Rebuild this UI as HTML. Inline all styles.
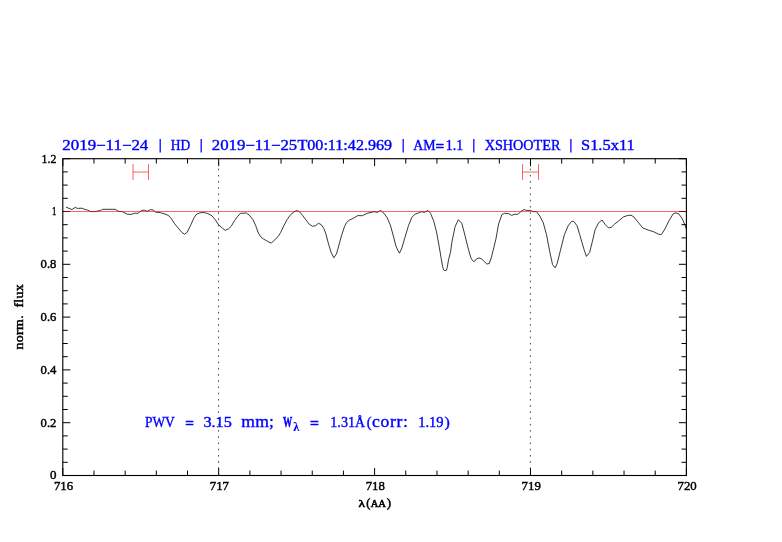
<!DOCTYPE html><html><head><meta charset="utf-8"><title>plot</title><style>html,body{margin:0;padding:0;background:#fff}svg{display:block;will-change:transform}text{font-family:"Liberation Serif",serif}</style></head><body>
<svg width="782" height="542" viewBox="0 0 782 542">
<rect width="782" height="542" fill="#fff"/>
<line x1="218.55" y1="475.35" x2="218.55" y2="158.70" stroke="#000" stroke-opacity="0.72" stroke-width="1" stroke-dasharray="1.6 4.625" stroke-dashoffset="-0.1"/>
<line x1="530.35" y1="475.35" x2="530.35" y2="158.70" stroke="#000" stroke-opacity="0.72" stroke-width="1" stroke-dasharray="1.6 4.625" stroke-dashoffset="-0.1"/>
<path d="M66.0 207.1 L72.0 209.6 L75.3 207.3 L77.3 208.4 L81.9 208.2 L84.6 209.3 L87.3 210.0 L90.6 211.6 L95.2 211.6 L100.6 210.4 L102.6 209.3 L115.2 209.3 L118.5 211.3 L122.5 211.7 L127.2 214.2 L131.1 214.4 L134.5 213.3 L137.8 213.3 L141.8 210.4 L144.4 210.2 L147.1 211.3 L150.4 209.7 L153.1 210.0 L155.8 212.2 L160.4 212.6 L166.0 214.4 L168.7 215.7 L171.3 218.6 L174.6 223.7 L178.0 227.9 L182.0 232.6 L184.6 234.2 L187.3 232.2 L190.6 225.3 L193.9 218.0 L196.6 214.0 L199.9 212.9 L203.2 212.4 L207.2 213.3 L211.9 215.7 L215.2 219.7 L218.5 224.6 L222.5 228.3 L225.2 230.3 L228.5 228.9 L231.2 226.3 L234.5 220.6 L237.8 216.2 L240.5 213.3 L246.5 213.0 L249.8 215.7 L253.1 219.9 L255.8 225.9 L258.4 233.2 L261.1 237.2 L263.7 239.2 L266.4 240.6 L270.0 242.7 L271.6 242.8 L274.7 239.9 L278.0 236.6 L280.6 232.6 L284.0 225.3 L287.3 219.3 L290.6 214.6 L293.9 212.0 L296.6 210.4 L299.3 211.7 L302.6 215.3 L305.9 219.9 L309.2 224.2 L312.6 226.3 L315.2 225.9 L318.5 223.3 L321.2 224.6 L323.9 228.6 L325.9 233.9 L328.5 243.9 L331.2 252.5 L333.8 257.8 L336.5 253.9 L339.1 244.5 L341.8 234.6 L344.5 226.6 L346.5 222.6 L349.1 220.3 L353.1 218.4 L357.8 215.6 L362.4 215.7 L367.1 213.3 L374.0 211.7 L377.3 212.4 L380.6 210.4 L384.0 213.3 L387.3 218.0 L390.6 225.9 L393.3 235.9 L395.9 245.9 L397.9 250.5 L399.5 253.2 L401.9 247.9 L404.6 238.6 L408.6 225.3 L411.9 217.3 L415.2 214.0 L418.5 213.0 L421.2 211.7 L424.5 212.4 L427.9 210.4 L430.5 213.3 L433.8 221.3 L436.5 231.9 L439.2 246.5 L441.2 258.5 L442.6 266.5 L443.6 269.9 L445.0 270.6 L446.4 270.3 L447.3 267.3 L448.5 259.8 L450.5 252.3 L451.8 242.6 L455.1 226.6 L458.4 219.7 L461.8 223.3 L465.1 235.9 L468.4 249.2 L470.9 257.9 L472.5 260.5 L474.2 261.7 L476.5 258.9 L479.1 257.9 L481.7 258.9 L484.2 261.5 L486.8 264.0 L489.3 263.5 L491.4 257.4 L493.9 247.2 L496.0 238.6 L498.6 223.9 L501.9 214.6 L504.6 213.3 L508.6 213.6 L511.5 215.3 L514.6 214.4 L517.9 214.2 L521.2 211.3 L523.9 209.6 L526.5 210.4 L530.5 210.4 L533.2 211.7 L536.5 211.7 L539.8 216.0 L543.2 222.6 L546.5 234.6 L549.8 251.9 L552.5 264.5 L555.1 267.8 L557.1 263.8 L560.4 250.5 L564.4 234.6 L568.4 225.3 L571.8 221.3 L573.7 221.3 L577.1 225.9 L579.7 234.6 L582.0 242.7 L584.1 249.7 L586.4 256.4 L589.6 252.5 L592.4 241.4 L595.1 229.7 L598.6 222.8 L602.0 220.0 L605.5 224.9 L608.5 227.9 L611.3 227.3 L614.5 224.2 L618.6 221.0 L623.4 216.9 L627.6 215.5 L631.0 215.2 L633.8 216.9 L638.6 222.8 L642.8 228.0 L648.3 230.1 L653.8 231.8 L658.7 234.3 L661.4 234.5 L664.9 229.0 L669.0 220.7 L673.2 213.8 L675.9 212.8 L678.7 213.8 L682.2 218.6 L684.9 224.9 L686.5 229.7" fill="none" stroke="#000" stroke-width="0.78" stroke-linejoin="round"/>
<path d="M133.0 164.1V180M148.5 164.1V180M133.0 172.05H148.5" fill="none" stroke="#ff0000" stroke-width="0.62"/>
<path d="M522.5 164.1V180M538.5 164.1V180M522.5 172.05H538.5" fill="none" stroke="#ff0000" stroke-width="0.62"/>
<path d="M62.80 475.5v-7.5M62.80 158.7v7.5M93.98 475.5v-4.9M93.98 158.7v4.9M125.16 475.5v-4.9M125.16 158.7v4.9M156.34 475.5v-4.9M156.34 158.7v4.9M187.52 475.5v-4.9M187.52 158.7v4.9M218.70 475.5v-7.5M218.70 158.7v7.5M249.88 475.5v-4.9M249.88 158.7v4.9M281.06 475.5v-4.9M281.06 158.7v4.9M312.24 475.5v-4.9M312.24 158.7v4.9M343.42 475.5v-4.9M343.42 158.7v4.9M374.60 475.5v-7.5M374.60 158.7v7.5M405.78 475.5v-4.9M405.78 158.7v4.9M436.96 475.5v-4.9M436.96 158.7v4.9M468.14 475.5v-4.9M468.14 158.7v4.9M499.32 475.5v-4.9M499.32 158.7v4.9M530.50 475.5v-7.5M530.50 158.7v7.5M561.68 475.5v-4.9M561.68 158.7v4.9M592.86 475.5v-4.9M592.86 158.7v4.9M624.04 475.5v-4.9M624.04 158.7v4.9M655.22 475.5v-4.9M655.22 158.7v4.9M686.40 475.5v-7.5M686.40 158.7v7.5M62.8 475.50h7.5M686.4 475.50h-7.5M62.8 462.30h4.9M686.4 462.30h-4.9M62.8 449.10h4.9M686.4 449.10h-4.9M62.8 435.90h4.9M686.4 435.90h-4.9M62.8 422.70h7.5M686.4 422.70h-7.5M62.8 409.50h4.9M686.4 409.50h-4.9M62.8 396.30h4.9M686.4 396.30h-4.9M62.8 383.10h4.9M686.4 383.10h-4.9M62.8 369.90h7.5M686.4 369.90h-7.5M62.8 356.70h4.9M686.4 356.70h-4.9M62.8 343.50h4.9M686.4 343.50h-4.9M62.8 330.30h4.9M686.4 330.30h-4.9M62.8 317.10h7.5M686.4 317.10h-7.5M62.8 303.90h4.9M686.4 303.90h-4.9M62.8 290.70h4.9M686.4 290.70h-4.9M62.8 277.50h4.9M686.4 277.50h-4.9M62.8 264.30h7.5M686.4 264.30h-7.5M62.8 251.10h4.9M686.4 251.10h-4.9M62.8 237.90h4.9M686.4 237.90h-4.9M62.8 224.70h4.9M686.4 224.70h-4.9M62.8 211.50h7.5M686.4 211.50h-7.5M62.8 198.30h4.9M686.4 198.30h-4.9M62.8 185.10h4.9M686.4 185.10h-4.9M62.8 171.90h4.9M686.4 171.90h-4.9M62.8 158.70h7.5M686.4 158.70h-7.5" fill="none" stroke="#000" stroke-width="1.0"/>
<line x1="63.40" y1="211.5" x2="685.80" y2="211.5" stroke="#ff0000" stroke-width="0.6"/>
<rect x="62.8" y="158.7" width="623.60" height="316.80" fill="none" stroke="#000" stroke-width="1.12"/>
<text transform="translate(62.30 150.30) scale(1.1502 1)" font-size="14.7" fill="#0000ff" stroke="#0000ff" stroke-width="0.38">2019−11−24</text>
<text transform="translate(170.80 150.30) scale(0.9184 1)" font-size="14.7" fill="#0000ff" stroke="#0000ff" stroke-width="0.38">HD</text>
<text transform="translate(211.80 150.30) scale(1.1435 1)" font-size="14.7" fill="#0000ff" stroke="#0000ff" stroke-width="0.38">2019−11−25</text>
<text transform="translate(297.50 150.30) scale(1.1025 1)" font-size="14.7" fill="#0000ff" stroke="#0000ff" stroke-width="0.38">T</text>
<text transform="translate(307.30 150.30) scale(1.0962 1)" font-size="14.7" fill="#0000ff" stroke="#0000ff" stroke-width="0.38">00:11:42.969</text>
<text transform="translate(413.20 150.30) scale(0.9415 1)" font-size="14.7" fill="#0000ff" stroke="#0000ff" stroke-width="0.38">AM</text>
<text transform="translate(435.60 151.15) scale(1.0386 0.96)" font-size="14.7" fill="#0000ff" stroke="#0000ff" stroke-width="0.5" font-weight="bold">=</text>
<text transform="translate(445.80 150.30) scale(0.9469 1)" font-size="14.7" fill="#0000ff" stroke="#0000ff" stroke-width="0.38">1.1</text>
<text transform="translate(484.70 150.30) scale(0.9668 1)" font-size="14.7" fill="#0000ff" stroke="#0000ff" stroke-width="0.38">XSHOOTER</text>
<text transform="translate(581.00 150.30) scale(1.1193 1)" font-size="14.7" fill="#0000ff" stroke="#0000ff" stroke-width="0.38">S1.5x11</text>
<line x1="160.2" y1="139.1" x2="160.2" y2="152.6" stroke="#0000ff" stroke-width="1.25"/>
<line x1="201.2" y1="139.1" x2="201.2" y2="152.6" stroke="#0000ff" stroke-width="1.25"/>
<line x1="403.2" y1="139.1" x2="403.2" y2="152.6" stroke="#0000ff" stroke-width="1.25"/>
<line x1="473.8" y1="139.1" x2="473.8" y2="152.6" stroke="#0000ff" stroke-width="1.25"/>
<line x1="570.9" y1="139.1" x2="570.9" y2="152.6" stroke="#0000ff" stroke-width="1.25"/>
<text transform="translate(144.90 427.40) scale(0.9153 1)" font-size="14.7" fill="#0000ff" stroke="#0000ff" stroke-width="0.38">PWV</text>
<text transform="translate(185.20 428.17) scale(1.0386 0.96)" font-size="14.7" fill="#0000ff" stroke="#0000ff" stroke-width="0.5" font-weight="bold">=</text>
<text transform="translate(203.40 427.40) scale(1.1079 1)" font-size="14.7" fill="#0000ff" stroke="#0000ff" stroke-width="0.38">3.15</text>
<text transform="translate(241.30 427.40) scale(1.0800 1)" font-size="16.3" fill="#0000ff" stroke="#0000ff" stroke-width="0.38" letter-spacing="0.196">mm;</text>
<text transform="translate(283.00 427.40) scale(0.6259 0.93)" font-size="14.7" fill="#0000ff" stroke="#0000ff" stroke-width="0.45" font-weight="bold">W</text>
<text transform="translate(293.20 431.20) scale(0.9851 1)" font-size="12.4" fill="#0000ff" stroke="#0000ff" stroke-width="0.1" font-weight="bold">λ</text>
<text transform="translate(310.10 428.17) scale(1.0744 0.96)" font-size="14.7" fill="#0000ff" stroke="#0000ff" stroke-width="0.5" font-weight="bold">=</text>
<text transform="translate(330.30 427.40) scale(0.9602 1)" font-size="14.7" fill="#0000ff" stroke="#0000ff" stroke-width="0.38">1.31</text>
<text transform="translate(355.00 427.40) scale(0.9420 1)" font-size="14.7" fill="#0000ff" stroke="#0000ff" stroke-width="0.38">Å</text>
<text transform="translate(366.80 427.40) scale(0.9805 1)" font-size="14.7" fill="#0000ff" stroke="#0000ff" stroke-width="0.38">(</text>
<text transform="translate(372.00 427.40) scale(1.0800 1)" font-size="16.3" fill="#0000ff" stroke="#0000ff" stroke-width="0.38" letter-spacing="0.641">corr:</text>
<text transform="translate(418.20 427.40) scale(0.9874 1)" font-size="14.7" fill="#0000ff" stroke="#0000ff" stroke-width="0.38">1.19</text>
<text transform="translate(444.60 427.40) scale(1.0827 1)" font-size="14.7" fill="#0000ff" stroke="#0000ff" stroke-width="0.38">)</text>
<text transform="translate(41.60 162.60) scale(1.0034 1)" font-size="11.8" fill="#000" stroke="#000" stroke-width="0.42">1.2</text>
<text transform="translate(52.00 215.40) scale(0.7458 1)" font-size="11.8" fill="#000" stroke="#000" stroke-width="0.42">1</text>
<text transform="translate(40.60 268.20) scale(1.0712 1)" font-size="11.8" fill="#000" stroke="#000" stroke-width="0.42">0.8</text>
<text transform="translate(40.60 321.00) scale(1.0712 1)" font-size="11.8" fill="#000" stroke="#000" stroke-width="0.42">0.6</text>
<text transform="translate(40.60 373.80) scale(1.0712 1)" font-size="11.8" fill="#000" stroke="#000" stroke-width="0.42">0.4</text>
<text transform="translate(40.60 426.60) scale(1.0712 1)" font-size="11.8" fill="#000" stroke="#000" stroke-width="0.42">0.2</text>
<text transform="translate(49.90 479.40) scale(1.1017 1)" font-size="11.8" fill="#000" stroke="#000" stroke-width="0.42">0</text>
<text transform="translate(53.90 490.35) scale(1.0847 1)" font-size="11.8" fill="#000" stroke="#000" stroke-width="0.42">716</text>
<text transform="translate(209.80 490.35) scale(1.0847 1)" font-size="11.8" fill="#000" stroke="#000" stroke-width="0.42">717</text>
<text transform="translate(365.70 490.35) scale(1.0847 1)" font-size="11.8" fill="#000" stroke="#000" stroke-width="0.42">718</text>
<text transform="translate(521.60 490.35) scale(1.0847 1)" font-size="11.8" fill="#000" stroke="#000" stroke-width="0.42">719</text>
<text transform="translate(677.50 490.35) scale(1.0847 1)" font-size="11.8" fill="#000" stroke="#000" stroke-width="0.42">720</text>
<g transform="translate(23.3 349.6) rotate(-90)">
<text transform="translate(0.00 0.00) scale(1.1000 1)" font-size="12.6" fill="#000" stroke="#000" stroke-width="0.45" letter-spacing="0.359" style="font-variant-ligatures:none">norm.</text>
<text transform="translate(42.00 0.00) scale(1.1000 1)" font-size="12.6" fill="#000" stroke="#000" stroke-width="0.45" letter-spacing="0.325" style="font-variant-ligatures:none">flux</text>
</g>
<text transform="translate(358.40 506.70) scale(1.2187 1)" font-size="11" fill="#000" stroke="#000" stroke-width="0.6">λ</text>
<text transform="translate(366.30 506.50) scale(0.9850 1)" font-size="12.5" fill="#000" stroke="#000" stroke-width="0.5">(</text>
<text transform="translate(370.70 506.70) scale(1.1390 1)" font-size="9.3" fill="#000" stroke="#000" stroke-width="0.55">AA</text>
<text transform="translate(386.70 506.50) scale(1.0330 1)" font-size="12.5" fill="#000" stroke="#000" stroke-width="0.5">)</text>
</svg></body></html>
